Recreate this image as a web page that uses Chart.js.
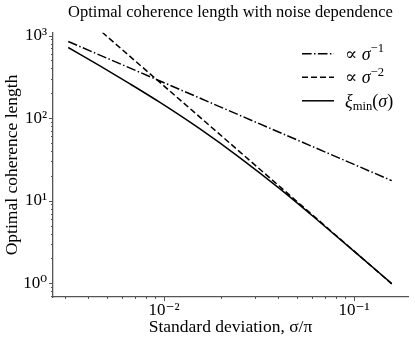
<!DOCTYPE html>
<html>
<head>
<meta charset="utf-8">
<script src="https://cdn.jsdelivr.net/npm/chart.js@4.4.0/dist/chart.umd.min.js"></script>
<style>
  html, body { margin: 0; padding: 0; background: #fff; }
</style>
</head>
<body>
<canvas id="chart" width="415" height="346"></canvas>
<script>
// values (log-log)
const sigmaCurve = [0.003134, 0.004603, 0.006624, 0.009526, 0.01547, 0.02512, 0.04078, 0.06622, 0.1076, 0.1579];
const xiMin = [717, 429, 260, 155, 74.0, 33.1, 13.9, 5.49, 2.12, 0.99];
const sigmaLaw = [0.003134, 0.1579];
const invSigma = [848, 17.5];       // ∝ σ^-1
const invSigma2 = [2499, 0.985];    // ∝ σ^-2 (clipped at the top)
const seriesLabels = ["∝ σ^{−1}", "∝ σ^{−2}", "ξ_{min}(σ)"];
const xRange = [0.002606, 0.1923];
const yRange = [0.682, 1081];

const FONT = "'Liberation Serif', 'DejaVu Serif', serif";
const SUP = { "0": "⁰", "1": "¹", "2": "²", "3": "³", "-": "⁻" };

function toPoints(xs, ys) {
  return xs.map((x, i) => ({ x: x, y: ys[i] }));
}

function decadeLabel(v) {
  const e = Math.log10(v);
  if (Math.abs(e - Math.round(e)) > 1e-6) return null;
  return "10" + String(Math.round(e)).split("").map((c) => SUP[c]).join("");
}

// draws "a^{b}" / "a_{b}" style labels, greek letters in italic
function drawTex(ctx, text, x, y, size) {
  const parts = [];
  const re = /([\^_])\{([^}]*)\}/g;
  let last = 0, m;
  while ((m = re.exec(text))) {
    if (m.index > last) parts.push({ t: text.slice(last, m.index), k: "n" });
    parts.push({ t: m[2], k: m[1] === "^" ? "sup" : "sub" });
    last = re.lastIndex;
  }
  if (last < text.length) parts.push({ t: text.slice(last), k: "n" });

  ctx.save();
  ctx.fillStyle = "#000";
  ctx.textBaseline = "alphabetic";
  const base = y + size * 0.33;
  parts.forEach((p) => {
    const s = p.k === "n" ? size : size * 0.7;
    const dy = p.k === "sup" ? -size * 0.42 : p.k === "sub" ? size * 0.2 : 0;
    for (const ch of p.t) {
      const greek = ch >= "\u03b1" && ch <= "\u03c9";
      ctx.font = (greek ? "italic " : "") + s + "px " + FONT;
      ctx.fillText(ch, x, base + dy);
      x += ctx.measureText(ch).width;
    }
  });
  ctx.restore();
}

const logTicks = {
  id: "logTicks",
  afterDraw(chart) {
    const ctx = chart.ctx;
    ctx.save();
    ctx.strokeStyle = "#555";
    ctx.lineWidth = 1;
    ["x", "y"].forEach((id) => {
      const sc = chart.scales[id];
      for (let e = Math.floor(Math.log10(sc.min)); e <= Math.ceil(Math.log10(sc.max)); e++) {
        for (let k = 1; k <= 9; k++) {
          const v = k * Math.pow(10, e);
          if (v < sc.min || v > sc.max) continue;
          const len = k === 1 ? 4 : 2;
          const p = Math.round(sc.getPixelForValue(v)) + 0.5;
          ctx.beginPath();
          if (id === "x") { ctx.moveTo(p, sc.top); ctx.lineTo(p, sc.top + len); }
          else { ctx.moveTo(sc.right, p); ctx.lineTo(sc.right - len, p); }
          ctx.stroke();
        }
      }
    });
    ctx.restore();
  }
};

const texLegend = {
  id: "texLegend",
  afterDraw(chart) {
    const ctx = chart.ctx;
    const a = chart.chartArea;
    chart.data.datasets.forEach((ds, i) => {
      const y = a.top + 21 + i * 23.5;
      const x0 = a.right - 106;
      ctx.save();
      ctx.strokeStyle = ds.borderColor;
      ctx.lineWidth = ds.borderWidth;
      ctx.setLineDash(ds.borderDash || []);
      ctx.beginPath();
      ctx.moveTo(x0, y);
      ctx.lineTo(x0 + 32, y);
      ctx.stroke();
      ctx.restore();
      drawTex(ctx, ds.label, x0 + 43, y, 18);
    });
  }
};

new Chart(document.getElementById("chart"), {
  type: "line",
  data: {
    datasets: [
      {
        label: seriesLabels[0],
        data: toPoints(sigmaLaw, invSigma),
        borderColor: "#000",
        borderWidth: 1.5,
        borderDash: [9.6, 2.4, 1.5, 2.4],
        pointRadius: 0,
      },
      {
        label: seriesLabels[1],
        data: toPoints(sigmaLaw, invSigma2),
        borderColor: "#000",
        borderWidth: 1.5,
        borderDash: [6, 3],
        pointRadius: 0,
      },
      {
        label: seriesLabels[2],
        data: toPoints(sigmaCurve, xiMin),
        borderColor: "#000",
        borderWidth: 1.5,
        cubicInterpolationMode: "monotone",
        pointRadius: 0,
      },
    ],
  },
  options: {
    responsive: false,
    animation: false,
    devicePixelRatio: 1,
    layout: { padding: { left: 0, right: 7, top: 0, bottom: 0 } },
    plugins: {
      legend: { display: false },
      tooltip: { enabled: false },
      title: {
        display: true,
        fullSize: false,
        text: "Optimal coherence length with noise dependence",
        color: "#000",
        font: { family: FONT, size: 16.5, weight: "normal" },
        padding: { top: 3, bottom: 10 },
      },
    },
    scales: {
      x: {
        type: "logarithmic",
        min: xRange[0],
        max: xRange[1],
        grid: { display: false, drawTicks: false },
        border: { display: true, color: "#555", width: 1.3 },
        ticks: {
          autoSkip: false,
          maxRotation: 0,
          padding: 3,
          color: "#000",
          font: { family: FONT, size: 17 },
          callback: (v) => decadeLabel(v),
        },
        title: {
          display: true,
          text: "Standard deviation, σ/π",
          color: "#000",
          font: { family: FONT, size: 17.5 },
          padding: { top: 0, bottom: 8 },
        },
        afterFit: (s) => { s.height = 49; },
      },
      y: {
        type: "logarithmic",
        min: yRange[0],
        max: yRange[1],
        grid: { display: false, drawTicks: false },
        border: { display: true, color: "#555", width: 1.3 },
        ticks: {
          autoSkip: false,
          padding: 6,
          color: "#000",
          font: { family: FONT, size: 17 },
          callback: (v) => decadeLabel(v),
        },
        title: {
          display: true,
          text: "Optimal coherence length",
          color: "#000",
          font: { family: FONT, size: 17.5 },
          padding: { top: 2, bottom: 0 },
        },
        afterFit: (s) => { s.width = 53; },
      },
    },
  },
  plugins: [logTicks, texLegend],
});
</script>
</body>
</html>
